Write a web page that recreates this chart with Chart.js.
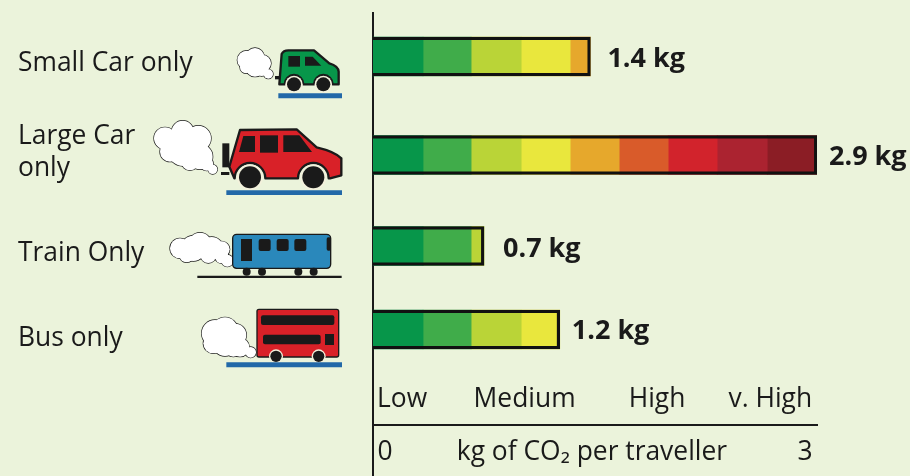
<!DOCTYPE html>
<html><head><meta charset="utf-8">
<style>html,body{margin:0;padding:0;background:#ebf3db}canvas{display:block}</style>
<script src="https://cdn.jsdelivr.net/npm/chart.js@4"></script>
</head><body><canvas id="c" width="910" height="476"></canvas>
<script>
// ---- data ----
const rowOrder = [0, 1.082, 2.082, 3];
const categoryLabels = ['Small Car only', ['Large Car', 'only'], 'Train Only', 'Bus only'];
const categoryLabelRows = [0.082, 1.055, 2.17, 3.102];
const valueLabels = ['1.4 kg', '2.9 kg', '0.7 kg', '1.2 kg'];
const totals = [1.42, 2.9, 0.725, 1.22];
const band1 = [0.327, 0.327, 0.327, 0.327];
const band2 = [0.314, 0.314, 0.314, 0.314];
const band3 = [0.327, 0.327, 0.084, 0.327];
const band4 = [0.320, 0.320, null, 0.252];
const band5 = [0.132, 0.320, null, null];
const band6 = [null, 0.320, null, null];
const band7 = [null, 0.320, null, null];
const band8 = [null, 0.327, null, null];
const band9 = [null, 0.325, null, null];
const bandColors = ['#07964a','#40ac4a','#bad437','#e9e73d','#e6a82c','#d95b2a','#d2232c','#ab2330','#8b1d25'];
const scaleTicks = [0, 1.43, 2.9];
const scaleTickLabels = ['\u20090', 'kg of CO₂ per traveller', '3\u2009'];
const levelTicks = [0.19, 0.99, 1.855, 2.595];
const levelLabels = ['Low', 'Medium', 'High', 'v. High'];

const FONT = '"Open Sans", "Noto Sans", sans-serif';
const INK = '#1a1a1a';
const bands = [band1, band2, band3, band4, band5, band6, band7, band8, band9];
const toPoints = vals => vals.map((v, i) => v === null ? null : ({x: v, y: rowOrder[i]})).filter(Boolean);

// ---- decorative icons (vehicle pictures, not data) ----
function cloud(ctx, t, circles) {
  ctx.strokeStyle = INK; ctx.lineWidth = 1.3 * 3; ctx.fillStyle = '#fff';
  circles.forEach(c => { ctx.beginPath(); ctx.arc(c[0], c[1], c[2], 0, 7); ctx.stroke(); });
  circles.forEach(c => { ctx.beginPath(); ctx.arc(c[0], c[1], c[2], 0, 7); ctx.fill(); });
}
function poly(ctx, pts, fill) {
  ctx.fillStyle = fill; ctx.beginPath();
  pts.forEach((p, i) => i ? ctx.lineTo(p[0], p[1]) : ctx.moveTo(p[0], p[1]));
  ctx.closePath(); ctx.fill();
}
function rect(ctx, x0, y0, x1, y1, fill, r) {
  ctx.fillStyle = fill; ctx.beginPath(); ctx.roundRect(x0, y0, x1 - x0, y1 - y0, r || 0); ctx.fill();
}
function wheel(ctx, x, y, r, ring) {
  ctx.fillStyle = '#f3f1dc'; ctx.beginPath(); ctx.arc(x, y, r + ring, 0, 7); ctx.fill();
  ctx.fillStyle = INK; ctx.beginPath(); ctx.arc(x, y, r, 0, 7); ctx.fill();
}
function zoomed(ctx, ox, oy, fn) {
  ctx.save(); ctx.translate(ox, oy); ctx.scale(1 / 3, 1 / 3); fn(); ctx.restore();
}
function carBody(ctx, fill, path) {
  ctx.fillStyle = fill; ctx.strokeStyle = INK; ctx.lineWidth = 7; ctx.lineJoin = 'round';
  ctx.beginPath(); path(); ctx.closePath(); ctx.fill(); ctx.stroke();
}
function drawIcons(ctx) {
  zoomed(ctx, 140, 30, () => {
    // small car
    cloud(ctx, 0, [[320,90,28],[345,82,28],[368,100,25],[345,112,28],[385,132,14],[318,112,18],[365,122,16]]);
    rect(ctx, 405, 138, 420, 148, INK);
    carBody(ctx, '#07964a', () => {
      ctx.moveTo(418,163); ctx.lineTo(425,72); ctx.quadraticCurveTo(430,61,445,61); ctx.lineTo(522,61);
      ctx.lineTo(568,100); ctx.quadraticCurveTo(595,108,596,125); ctx.lineTo(596,163); ctx.lineTo(578,163);
      ctx.arc(550,163,28,0,Math.PI,true); ctx.lineTo(490,163); ctx.arc(462,163,28,0,Math.PI,true);
    });
    rect(ctx, 445, 78, 480, 110, INK);
    poly(ctx, [[495,80],[518,80],[544,107],[495,107]], INK);
    wheel(ctx, 462, 163, 21, 5); wheel(ctx, 550, 163, 21, 5);
    rect(ctx, 415, 190, 606, 205, '#2268a8');
    // large car
    cloud(ctx, 0, [[75,325,33],[128,305,33],[175,325,38],[130,360,48],[90,365,30],[180,380,38],[218,418,14],[150,395,26],[200,402,20]]);
    rect(ctx, 247, 340, 268, 412, INK); rect(ctx, 243, 426, 268, 435, INK);
    carBody(ctx, '#d92128', () => {
      ctx.moveTo(283,445); ctx.lineTo(268,410); ctx.lineTo(300,300); ctx.lineTo(470,298); ctx.lineTo(530,352);
      ctx.quadraticCurveTo(585,365,604,385); ctx.lineTo(604,436); ctx.lineTo(570,445);
      ctx.arc(520,445,46,0,Math.PI,true); ctx.lineTo(376,445); ctx.arc(330,445,46,0,Math.PI,true);
    });
    poly(ctx, [[297,366],[310,318],[345,318],[345,366]], INK);
    rect(ctx, 360, 316, 414, 368, INK);
    poly(ctx, [[430,316],[478,316],[516,366],[430,366]], INK);
    wheel(ctx, 330, 442, 33, 6); wheel(ctx, 520, 442, 33, 6);
    rect(ctx, 259, 481, 606, 495, '#2268a8');
  });
  zoomed(ctx, 150, 220, () => {
    // train
    cloud(ctx, 0, [[90,85,30],[130,85,38],[150,72,34],[185,85,34],[215,88,24],[175,105,24],[110,105,22],[232,122,18],[215,110,20]]);
    ctx.fillStyle = '#2a88bb'; ctx.strokeStyle = INK; ctx.lineWidth = 4;
    ctx.beginPath(); ctx.roundRect(248,43,294,102,12); ctx.fill(); ctx.stroke();
    rect(ctx, 273, 57, 306, 123, INK);
    [326,380,433].forEach(x => rect(ctx, x, 57, x + 36, 93, INK, 6));
    rect(ctx, 530, 52, 543, 92, INK, 5);
    [290,336,445,491].forEach(x => { ctx.fillStyle = INK; ctx.beginPath(); ctx.arc(x,155,12,0,7); ctx.fill(); });
    rect(ctx, 142, 167, 575, 174, INK);
    // bus
    cloud(ctx, 0, [[195,340,40],[225,330,38],[255,345,34],[225,370,38],[190,370,30],[270,382,28],[302,397,16],[250,385,25]]);
    ctx.fillStyle = '#d92128'; ctx.lineWidth = 4;
    ctx.beginPath(); ctx.roundRect(321,268,245,143,6); ctx.fill(); ctx.stroke();
    rect(ctx, 333, 286, 553, 315, INK, 6);
    rect(ctx, 339, 344, 512, 373, INK, 6);
    rect(ctx, 525, 342, 552, 375, INK);
    wheel(ctx, 378, 409, 17, 4); wheel(ctx, 506, 409, 17, 4);
    rect(ctx, 229, 427, 576, 442, '#2268a8');
  });
}

const overlayPlugin = {
  id: 'overlay',
  afterDraw(chart) {
    const {ctx, scales: {x, y}} = chart;
    ctx.save();
    drawIcons(ctx);
    ctx.fillStyle = INK;
    ctx.font = 'bold 27px ' + FONT;
    ctx.textBaseline = 'middle';
    ctx.textAlign = 'left';
    const gaps = [17, 12, 19, 12];
    const lifts = [3, 2, 3, 2];
    valueLabels.forEach((t, i) => {
      ctx.fillText(t, x.getPixelForValue(totals[i]) + gaps[i], y.getPixelForValue(rowOrder[i]) + lifts[i]);
    });
    ctx.restore();
  }
};

const setTicks = values => axis => { axis.ticks = values.map(value => ({value})); };

new Chart(document.getElementById('c'), {
  type: 'bar',
  data: {
    datasets: [
      {label: 'Total', data: toPoints(totals), stack: 'outline', backgroundColor: 'rgba(0,0,0,0)',
       borderColor: '#111', borderWidth: 2.6},
      ...bands.map((b, i) => ({label: 'Band ' + (i + 1), data: toPoints(b), stack: 'bands',
        backgroundColor: bandColors[i], borderWidth: 0}))
    ]
  },
  plugins: [overlayPlugin],
  options: {
    indexAxis: 'y',
    responsive: false,
    animation: false,
    layout: {padding: {left: 18, right: 93, top: 13, bottom: 0}},
    datasets: {bar: {grouped: false, barThickness: 39}},
    plugins: {legend: {display: false}, tooltip: {enabled: false}},
    scales: {
      y: {
        type: 'linear', reverse: true, stacked: true, min: -0.478, max: 4.61, offset: false,
        grid: {display: false, drawTicks: false},
        border: {display: true, color: INK, width: 2},
        afterBuildTicks: setTicks(categoryLabelRows),
        afterFit: s => { s.width = 355; s.paddingTop = 0; s.paddingBottom = 0; },
        ticks: {
          autoSkip: false, crossAlign: 'far', color: INK, padding: 0,
          font: {family: FONT, size: 26.4},
          callback: (v, i) => categoryLabels[i]
        }
      },
      x: {
        type: 'linear', stacked: true, min: 0, max: 2.9,
        position: {y: 4.05},
        grid: {display: false, drawTicks: false},
        border: {display: true, color: INK, width: 2},
        afterBuildTicks: setTicks(scaleTicks),
        ticks: {
          autoSkip: false, maxRotation: 0, align: 'inner', color: INK, padding: 12,
          font: {family: FONT, size: 26.4},
          callback: (v, i) => scaleTickLabels[i]
        }
      },
      x2: {
        type: 'linear', min: 0, max: 2.9, axis: 'x',
        position: {y: 3.6},
        grid: {display: false, drawTicks: false},
        border: {display: false},
        afterBuildTicks: setTicks(levelTicks),
        ticks: {
          autoSkip: false, maxRotation: 0, color: INK, padding: 0,
          font: {family: FONT, size: 26.4},
          callback: (v, i) => levelLabels[i]
        }
      }
    }
  }
});
</script></body></html>
